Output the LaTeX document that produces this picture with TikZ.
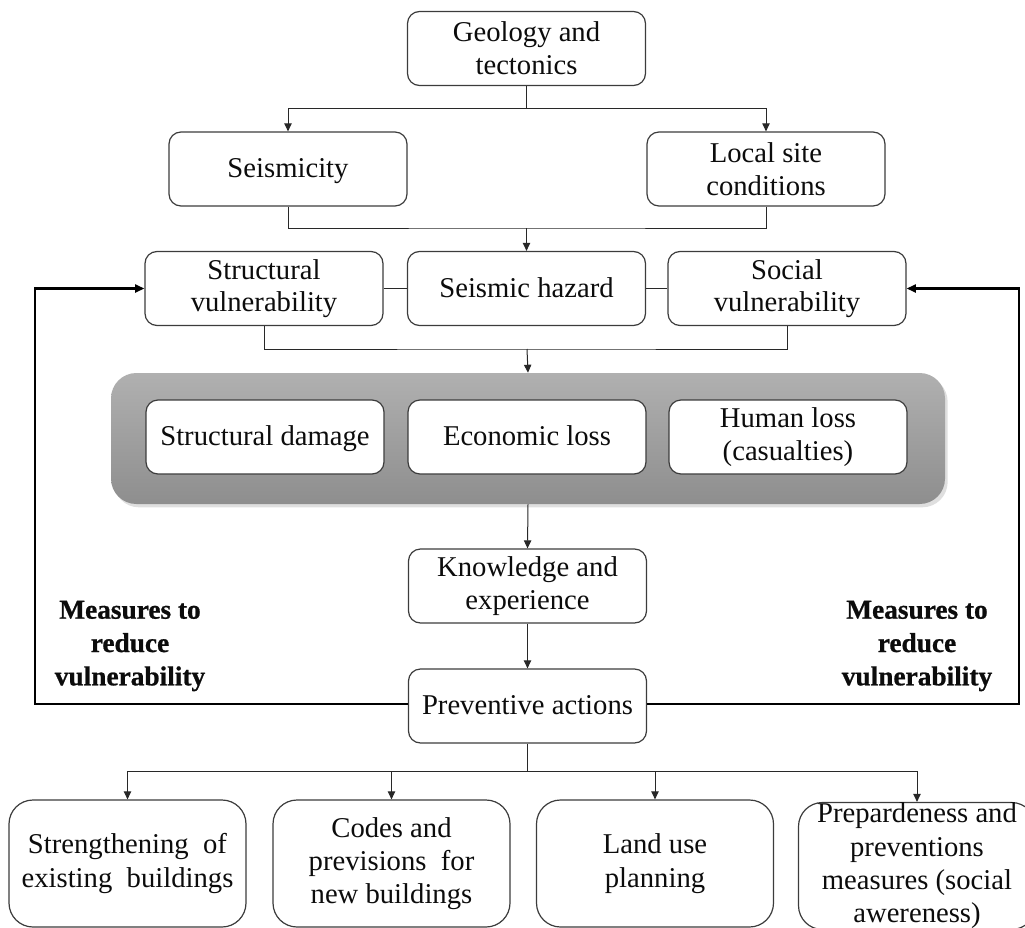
\documentclass[tikz,border=0pt]{standalone}
\usepackage{fontspec}
\setmainfont{Liberation Serif}
% heavier bold for the loop labels
\newfontfamily\measfont[BoldFeatures={FakeBold=0.8}]{Liberation Serif}
\usetikzlibrary{arrows.meta,shadows}
\definecolor{ink}{RGB}{12,12,12}
\definecolor{edge}{RGB}{60,60,60}
\definecolor{wire}{RGB}{40,40,40}
\definecolor{panetop}{RGB}{176,176,176}
\definecolor{panebot}{RGB}{142,142,142}
\begin{document}
\begin{tikzpicture}[x=0.75pt,y=-0.75pt,
  box/.style={draw=edge, line width=0.9pt, rounded corners=9pt, fill=white,
    align=center, text=ink, inner sep=0pt,
    font=\fontsize{21.5}{24.5}\selectfont},
  mid/.style={box, minimum width=238*0.75pt, minimum height=74*0.75pt},
  one/.style={text height=16.5pt, text depth=3.5pt},
  leaf/.style={box, rounded corners=18pt, minimum width=237*0.75pt,
    minimum height=127*0.75pt, font=\fontsize{21.5}{25}\selectfont},
  pane/.style={rounded corners=19pt, top color=panetop, bottom color=panebot,
    minimum width=834*0.75pt, minimum height=131*0.75pt, inner sep=0pt,
    drop shadow={shadow xshift=2pt, shadow yshift=-2.5pt, opacity=0.25}},
  conn/.style={draw=wire, line width=0.75pt},
  tip/.tip={Triangle[length=6pt,width=5.5pt]},
  fb/.style={draw=black, line width=1.6pt, -{Triangle[length=7pt,width=6pt]}},
  meas/.style={align=center, font=\measfont\fontsize{20.5}{25}\selectfont\bfseries, text=ink}
]
\useasboundingbox (0,0) rectangle (1025,928);

% grey panel behind the three loss boxes
\node[pane] (loss) at (528,438.5) {};

% top part: hazard chain
\node[mid] (geo)   at (526.5,48.5) {Geology and\\tectonics};
\node[mid,one] (seis)  at (288,169)    {Seismicity};
\node[mid] (local) at (766,169)    {Local site\\conditions};
\node[mid] (sv)    at (264,288.5)  {Structural\\vulnerability};
\node[mid,one] (haz)   at (526.5,288.5){Seismic hazard};
\node[mid] (socv)  at (787,288.5)  {Social\\vulnerability};

% consequences inside the panel
\node[mid,one] (sd)  at (265,437)   {Structural damage};
\node[mid,one] (el)  at (527,437)   {Economic loss};
\node[mid] (hl)  at (788,437)   {Human loss\\(casualties)};

% learning and actions
\node[mid] (know) at (527.5,586) {Knowledge and\\experience};
\node[mid,one] (prev) at (527.5,706) {Preventive actions};

% the four action boxes
\node[leaf] (b1) at (127.5,863.5) {Strengthening\ \ of\\existing\ \ buildings};
\node[leaf] (b2) at (391.5,863.5) {Codes and\\previsions\ \ for\\new buildings};
\node[leaf] (b3) at (655,863.5)   {Land use\\planning};
\node[leaf] (b4) at (917,866)     {Prepardeness and\\preventions\\measures (social\\awereness)};

% junction points of the connectors
\coordinate (j1) at (526.5,108);
\coordinate (j2) at (526.5,228);
\coordinate (j3) at (527,349);
\coordinate (j4) at (527.5,771);
\coordinate (fl) at (35,704);
\coordinate (fr) at (1019,704);

\draw[conn] (geo.south) -- (j1);
\draw[conn,-tip] (j1) -| (seis.north);
\draw[conn,-tip] (j1) -| (local.north);

\draw[conn] (seis.south) |- (j2) -| (local.south);
\draw[conn,-tip] (j2) -- (haz.north);

\draw[conn] (sv.east) -- (haz.west);
\draw[conn] (haz.east) -- (socv.west);

\draw[conn] (sv.south) |- (j3) -| (socv.south);
\draw[conn,-tip] (j3) -- (loss.north);

\draw[conn,-tip] (loss.south) -- (know.north);
\draw[conn,-tip] (know.south) -- (prev.north);

\draw[conn] (prev.south) -- (j4);
\draw[conn] (b1.north |- j4) -- (b4.north |- j4);
\draw[conn,-tip] (b1.north |- j4) -- (b1.north);
\draw[conn,-tip] (b2.north |- j4) -- (b2.north);
\draw[conn,-tip] (b3.north |- j4) -- (b3.north);
\draw[conn,-tip] (b4.north |- j4) -- (b4.north);

% feedback loops
\draw[fb] (prev.west |- fl) -- (fl) -- (fl |- sv.west) -- (sv.west);
\draw[fb] (prev.east |- fr) -- (fr) -- (fr |- socv.east) -- (socv.east);

% loop labels
\node[meas] (ml) at (130,646) {Measures to\\reduce\\vulnerability};
\node[meas] (mr) at (917,646) {Measures to\\reduce\\vulnerability};
\end{tikzpicture}
\end{document}
